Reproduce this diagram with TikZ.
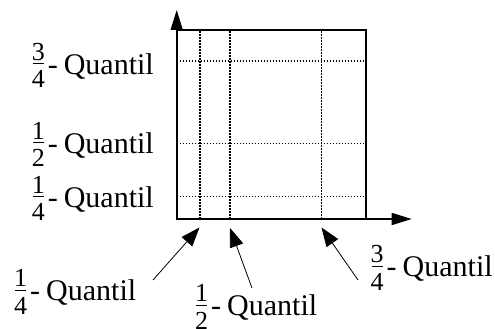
\documentclass[tikz,border=0pt]{standalone}
\usepackage{fontspec}
\setmainfont{Liberation Serif}
\usetikzlibrary{arrows.meta}

\newcommand{\fracfont}{\fontsize{26}{26}\selectfont}
\newcommand{\qfrac}[2]{\hbox{\fracfont\raisebox{14pt}{#1}\llap{\raisebox{-13.5pt}{#2}}\llap{\hbox to 13pt{\hss\rule[10.2pt]{11pt}{0.9pt}\hss}}}}
\newcommand{\quantil}[2]{\qfrac{#1}{#2}\kern3pt-\kern6pt Quantil}

\tikzset{
    quant axis/.style={
      line width=1.6pt,
      -{Triangle[length=20pt,width=12pt]}
    },
    quant frame/.style={
      line width=1.6pt
    },
    quant grid/.style={
      line width=1.4pt,
      dash pattern=on 1.6pt off 1.4pt
    },
    quant arrow/.style={
      line width=0.8pt,
      -{Triangle[length=19pt,width=14pt]}
    },
    quant label/.style={
      inner sep=0pt,
      font=\fontsize{30}{32}\selectfont
    }
  }

\begin{document}
\begin{tikzpicture}[x=1pt,y=1pt]
      \useasboundingbox (0,0) rectangle (495,329);

      % 点
      \coordinate (O) at (176.7,110);
      \coordinate (T) at (365.7,299);
      \coordinate (ytip) at (176.7,319);
      \coordinate (xtip) at (411.7,110);
      \coordinate (q1) at (199.5,101.5);
      \coordinate (q2) at (230,101);
      \coordinate (q3) at (321.5,101.5);
      \coordinate (t1) at (153,49);
      \coordinate (t2) at (252,41);
      \coordinate (t3) at (358,49);

      % 分位線
      \foreach \gx in {200,230,321.3}
        \draw[quant grid] (\gx,110) -- (\gx,299);
      \foreach \gy in {132.3,185.3,268}
        \draw[quant grid] (176.7,\gy) -- (367,\gy);

      % 輪郭
      \draw[quant frame] (O) rectangle (T);
      \draw[quant axis] (O) -- (ytip);
      \draw[quant axis] (O) -- (xtip);

      % ラベル
      \node[quant label, anchor=base east] (ly3) at (154,254.5) {\quantil{3}{4}};
      \node[quant label, anchor=base east] (ly2) at (154,175.7) {\quantil{1}{2}};
      \node[quant label, anchor=base east] (ly1) at (154,121.7) {\quantil{1}{4}};
      \node[quant label, anchor=base west] (lx1) at (14,28.3) {\quantil{1}{4}};
      \node[quant label, anchor=base west] (lx2) at (195,13) {\quantil{1}{2}};
      \node[quant label, anchor=base west] (lx3) at (370.5,52) {\quantil{3}{4}};

      % 矢印
      \draw[quant arrow] (t1) -- (q1);
      \draw[quant arrow] (t2) -- (q2);
      \draw[quant arrow] (t3) -- (q3);
    \end{tikzpicture}
\end{document}
